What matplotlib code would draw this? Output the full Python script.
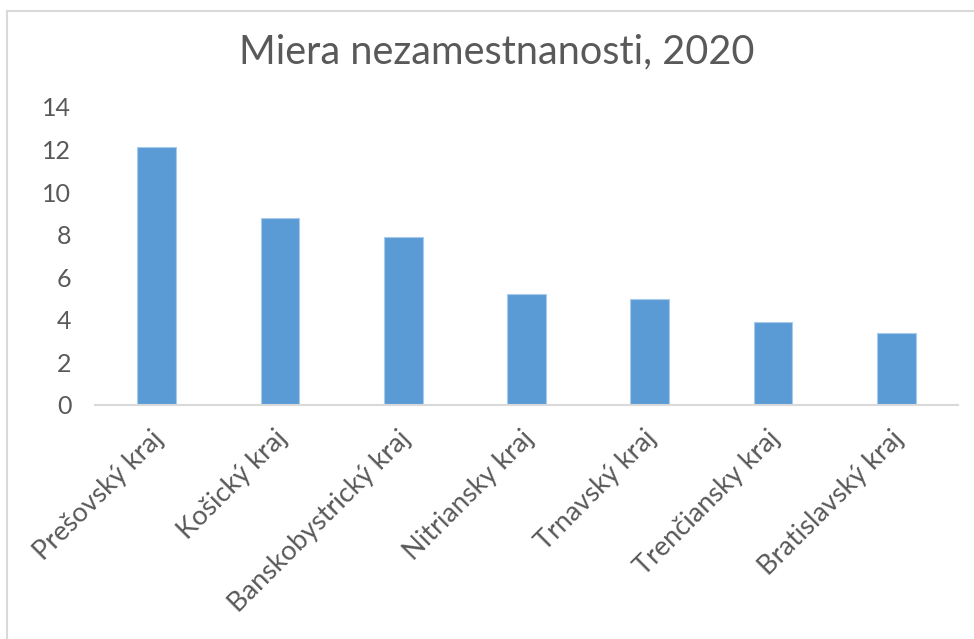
import matplotlib.pyplot as plt
from matplotlib.lines import Line2D
from matplotlib.transforms import ScaledTranslation

# Data
regions = ['Prešovský kraj', 'Košický kraj', 'Banskobystrický kraj', 'Nitriansky kraj',
           'Trnavský kraj', 'Trenčiansky kraj', 'Bratislavský kraj']
unemployment = [12.1, 8.8, 7.9, 5.2, 5.0, 3.9, 3.4]
yticks = [0, 2, 4, 6, 8, 10, 12, 14]

text_color = '#595959'
plt.rcParams['font.family'] = ['Lato', 'DejaVu Sans']

W, H = 974, 639
fig = plt.figure(figsize=(W / 100, H / 100), dpi=100)
ax = fig.add_axes([95 / W, 1 - 405 / H, (958 - 95) / W, (405 - 107) / H])

ax.bar(range(len(regions)), unemployment, width=0.315, color='#5B9BD5',
       edgecolor='#A9CBEB', linewidth=0.8)

ax.set_xlim(-0.5, len(regions) - 0.5)
ax.set_ylim(0, 14)
ax.set_yticks(yticks)
ax.set_yticklabels([str(t) for t in yticks], fontsize=18, color=text_color)
ax.set_xticks(range(len(regions)))
ax.set_xticklabels(regions, rotation=45, ha='right', va='top', rotation_mode='anchor',
                   fontsize=19.5, color=text_color)
ax.tick_params(axis='y', length=0, pad=17)
ax.tick_params(axis='x', length=0, pad=15)

# nudge category labels a bit to the left
shift = ScaledTranslation(-6 / 100, 0, fig.dpi_scale_trans)
for lbl in ax.get_xticklabels():
    lbl.set_transform(lbl.get_transform() + shift)

for side in ['top', 'right', 'left']:
    ax.spines[side].set_visible(False)
ax.spines['bottom'].set_color('#D9D9D9')
ax.spines['bottom'].set_linewidth(1.5)

fig.text(497 / W, 1 - 52 / H, 'Miera nezamestnanosti, 2020', ha='center', va='center',
         fontsize=28.5, color=text_color)

# chart frame
fig.add_artist(Line2D([7 / W, 7 / W], [0, 1 - 11 / H], color='#D9D9D9', linewidth=1.5))
fig.add_artist(Line2D([7 / W, 1], [1 - 11 / H, 1 - 11 / H], color='#D9D9D9', linewidth=1.5))

fig.savefig('out.png', dpi=100)
